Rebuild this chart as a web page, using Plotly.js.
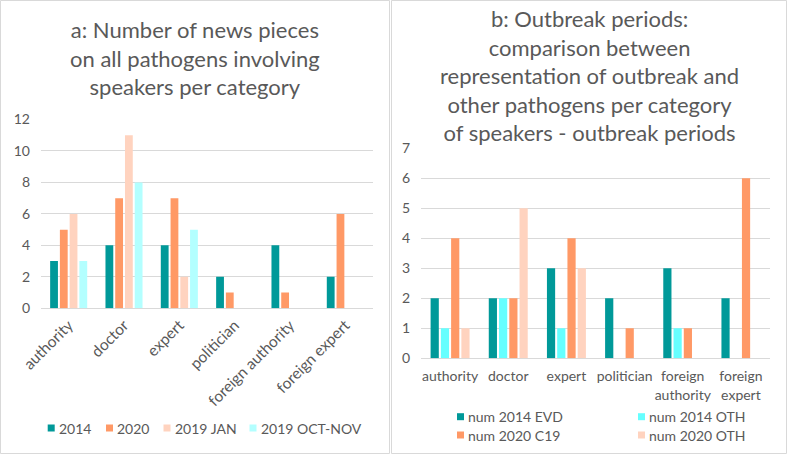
<!DOCTYPE html>
<html>
<head>
<meta charset="utf-8">
<script src="https://cdn.plot.ly/plotly-3.0.1.min.js"></script>
<style>
  html, body { margin: 0; padding: 0; background: #ffffff; }
  #chart { width: 787px; height: 455px; }
</style>
</head>
<body>
<div id="chart"></div>
<script>
// ---- data ----
const categories = ['authority', 'doctor', 'expert', 'politician', 'foreign authority', 'foreign expert'];
const ticksA = ['authority', 'doctor', 'expert', 'politician', 'foreign authority', 'foreign expert'];
const ticksB = ['authority', 'doctor', 'expert', 'politician', 'foreign<br>authority', 'foreign<br>expert'];

// panel a: news pieces on all pathogens
const namesA = ['2014', '2020', '2019 JAN', '2019 OCT-NOV'];
const a2014 = [3, 4, 4, 2, 4, 2];
const a2020 = [5, 7, 7, 1, 1, 6];
const a2019Jan = [6, 11, 2, 0, 0, 0];
const a2019OctNov = [3, 8, 5, 0, 0, 0];

// panel b: outbreak periods
const namesB = ['num 2014 EVD', 'num 2014 OTH', 'num 2020 C19', 'num 2020 OTH'];
const b2014Evd = [2, 2, 3, 2, 3, 2];
const b2014Oth = [1, 2, 1, 0, 1, 0];
const b2020C19 = [4, 2, 4, 1, 1, 6];
const b2020Oth = [1, 5, 3, 0, 0, 0];

const titleA = 'a: Number of news pieces<br>on all pathogens involving<br>speakers per category';
const titleB = 'b: Outbreak periods:<br>comparison between<br>representation of outbreak and<br>other pathogens per category<br>of speakers - outbreak periods';

// ---- styling ----
const W = 787, H = 455;
const FONT = 'Lato, "Open Sans", sans-serif';
const TXT = '#595959';
const GRID = '#d9d9d9';
const coloursA = ['#009999', '#ff9966', '#ffd3bf', '#b3ffff'];
const coloursB = ['#009999', '#66ffff', '#ff9966', '#ffd3bf'];

// pixel -> paper helpers (margins are zero, so paper == canvas)
const px = x => x / W;
const py = y => 1 - y / H;

const seriesA = [a2014, a2020, a2019Jan, a2019OctNov];
const seriesB = [b2014Evd, b2014Oth, b2020C19, b2020Oth];

const traces = [];
seriesA.forEach((vals, i) => traces.push({
  type: 'bar', x: categories, y: vals, name: namesA[i],
  xaxis: 'x', yaxis: 'y',
  marker: { color: coloursA[i], line: { width: 0 } },
  hoverinfo: 'x+y+name'
}));
seriesB.forEach((vals, i) => traces.push({
  type: 'bar', x: categories, y: vals, name: namesB[i],
  xaxis: 'x2', yaxis: 'y2',
  marker: { color: coloursB[i], line: { width: 0 } },
  hoverinfo: 'x+y+name'
}));

// hand-placed legend rows under each panel
const legendA = { y: 428, sq: [47.7, 106, 163.5, 249.5] };
const legendB = { rows: [416.7, 435], cols: [457, 638] };

const shapes = [
  // panel frames
  { type: 'rect', xref: 'paper', yref: 'paper', x0: px(0.5), x1: px(389.5), y0: py(453.5), y1: py(0.5),
    line: { color: GRID, width: 1 }, fillcolor: 'rgba(0,0,0,0)' },
  { type: 'rect', xref: 'paper', yref: 'paper', x0: px(391.5), x1: px(786.5), y0: py(453.5), y1: py(0.5),
    line: { color: GRID, width: 1 }, fillcolor: 'rgba(0,0,0,0)' }
];
const annotations = [
  { xref: 'paper', yref: 'paper', x: px(195), y: py(58), xanchor: 'center', yanchor: 'middle',
    text: titleA, showarrow: false, align: 'center', font: { family: FONT, size: 22, color: TXT } },
  { xref: 'paper', yref: 'paper', x: px(589), y: py(76), xanchor: 'center', yanchor: 'middle',
    text: titleB, showarrow: false, align: 'center', font: { family: FONT, size: 22, color: TXT } }
];

function legendItem(x, y, colour, label) {
  shapes.push({ type: 'rect', xref: 'paper', yref: 'paper',
    x0: px(x), x1: px(x + 7), y0: py(y + 3.5), y1: py(y - 3.5),
    line: { width: 0 }, fillcolor: colour });
  annotations.push({ xref: 'paper', yref: 'paper', x: px(x + 9), y: py(y), xanchor: 'left', yanchor: 'middle',
    text: label, showarrow: false, font: { family: FONT, size: 14, color: TXT } });
}
namesA.forEach((n, i) => legendItem(legendA.sq[i], legendA.y, coloursA[i], n));
namesB.forEach((n, i) => legendItem(legendB.cols[i % 2], legendB.rows[Math.floor(i / 2)], coloursB[i], n));

const axisFont = { family: FONT, size: 14, color: TXT };
const layout = {
  width: W, height: H,
  margin: { l: 0, r: 0, t: 0, b: 0 },
  paper_bgcolor: '#ffffff', plot_bgcolor: '#ffffff',
  font: { family: FONT, color: TXT },
  showlegend: false,
  barmode: 'group', bargap: 0.295, bargroupgap: 0.2,
  xaxis: {
    domain: [px(41), px(373)], anchor: 'y', type: 'category',
    tickvals: categories, ticktext: ticksA, tickangle: -45,
    tickfont: { family: FONT, size: 15.5, color: TXT },
    showgrid: false, ticks: '', showline: false, zeroline: false, ticklabelstandoff: 4
  },
  yaxis: {
    domain: [py(308.3), py(119.5)], anchor: 'x', range: [0, 12], dtick: 2,
    tickfont: axisFont, gridcolor: GRID, gridwidth: 1, zeroline: true, zerolinecolor: GRID,
    zerolinewidth: 1, showline: false, ticks: '', ticklabelstandoff: 10
  },
  xaxis2: {
    domain: [px(421), px(770)], anchor: 'y2', type: 'category',
    tickvals: categories, ticktext: ticksB, tickangle: 0,
    tickfont: axisFont, showgrid: false, ticks: '', showline: false, zeroline: false,
    ticklabelstandoff: 8
  },
  yaxis2: {
    domain: [py(358.3), py(148.3)], anchor: 'x2', range: [0, 7], dtick: 1,
    tickfont: axisFont, gridcolor: GRID, gridwidth: 1, zeroline: true, zerolinecolor: GRID,
    zerolinewidth: 1, showline: false, ticks: '', ticklabelstandoff: 10
  },
  shapes: shapes,
  annotations: annotations
};

Plotly.newPlot('chart', traces, layout, { displayModeBar: false, responsive: false });
</script>
</body>
</html>
